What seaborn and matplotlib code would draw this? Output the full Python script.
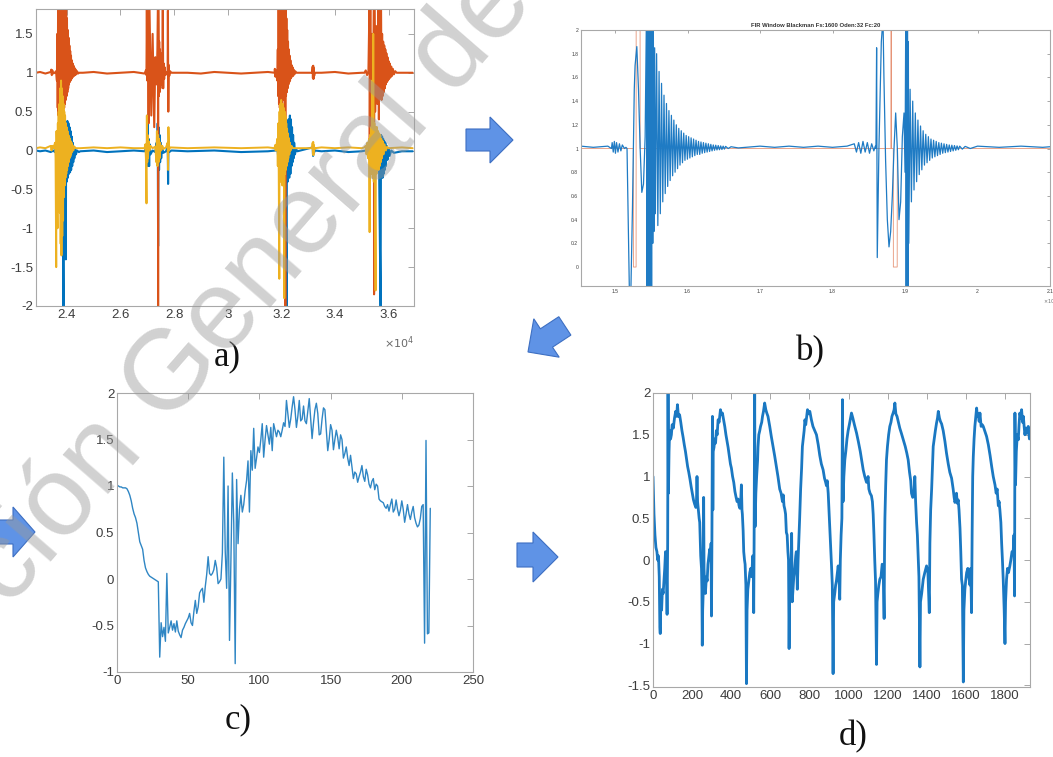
import numpy as np
import pandas as pd
import matplotlib
matplotlib.use("Agg")
import matplotlib.pyplot as plt
import matplotlib.ticker as mticker
from matplotlib.patches import Polygon
import seaborn as sns

# ---------------- DATA ----------------
# Panel a) three raw channels (x in samples)
A_blue_x = [22850, 23000, 23200, 23400, 23500, 23550, 23600, 23620, 23650, 23680, 23710, 23740, 23770, 23800,
            23830, 23876, 23890, 23920, 23963, 23975, 24000, 24020, 24040, 24060, 24080, 24100, 24120, 24140,
            24160, 24180, 24200, 24220, 24240, 24260, 24280, 24310, 24340, 24380, 24450,
            24500, 25000, 25500, 26000, 26500, 26900,
            26950, 26970, 27000, 27009, 27030, 27050, 27071, 27090, 27120, 27200, 27300, 27350, 27370, 27390,
            27405, 27420, 27440, 27460, 27480, 27500, 27520, 27550, 27600, 27700, 27765, 27777, 27790, 27820, 27900,
            28500, 29500, 30500, 31500, 31800,
            31850, 31900, 31950, 32000, 32050, 32100, 32150, 32198, 32210, 32240, 32270, 32297, 32320, 32340,
            32360, 32380, 32400, 32420, 32440, 32460, 32480, 32510, 32550, 32600,
            33170, 33185, 33200, 33220, 33250,
            33500, 34000, 34500, 35000, 35150,
            35200, 35250, 35300, 35350, 35400, 35450, 35500, 35550, 35600, 35650, 35703, 35720, 35740, 35760,
            35780, 35800, 35820, 35840, 35860, 35880, 35900, 35930, 35960, 36000, 36040, 36100, 36200, 36500, 36900]
A_blue_y = [0.0, -0.01, 0.0, -0.02, 0.0, -0.02, 0.05, -0.1, 0.1, -0.3, 0.2, -0.4, 0.25, -0.5,
            0.3, -2.0, 0.3, -0.45, -1.4, 0.35, -0.4, 0.38, -0.35, 0.35, -0.3, 0.3, -0.28, 0.25,
            -0.25, 0.18, -0.2, 0.1, -0.15, 0.05, -0.1, 0.02, -0.05, 0.0, -0.02,
            -0.01, 0.0, -0.02, -0.01, 0.0, -0.01,
            0.02, -0.1, 0.2, 0.45, -0.2, 0.15, -0.2, 0.08, -0.05, 0.0, -0.02, 0.1, -0.15, 0.35,
            -1.23, 0.3, -0.25, 0.2, -0.15, 0.1, -0.1, 0.05, -0.03, -0.01, 0.05, -0.43, 0.05, -0.02, 0.0,
            -0.01, 0.0, -0.02, -0.01, 0.0,
            0.05, -0.15, 0.15, -0.25, 0.2, -0.3, 0.25, -2.0, 0.3, -0.4, 0.4, -0.35, 0.45, -0.3,
            0.4, -0.2, 0.3, -0.15, 0.2, -0.1, 0.1, -0.05, 0.02, -0.01,
            0.04, -0.07, 0.05, -0.03, 0.0,
            -0.01, 0.0, -0.02, -0.01, 0.0,
            0.03, -0.05, 0.05, -0.1, 0.1, -0.15, 0.12, -0.2, 0.15, -0.3, -2.0, 0.2, -0.35, 0.18,
            -0.35, 0.15, -0.3, 0.12, -0.25, 0.1, -0.2, 0.06, -0.12, 0.03, -0.07, 0.0, -0.03, -0.01, -0.01]

A_orange_x = [22850, 23000, 23200, 23400, 23420, 23440, 23460, 23480, 23550,
              23600, 23630, 23645, 23660, 23675, 23690, 23705, 23720, 23735, 23750, 23765, 23780, 23795, 23810,
              23825, 23840, 23855, 23870, 23885, 23900, 23915, 23930, 23945, 23960, 23975, 23990, 24005, 24020,
              24035, 24050, 24065, 24080, 24095, 24110, 24125, 24140, 24155, 24170, 24185, 24200, 24215, 24230,
              24250, 24270, 24290, 24310, 24330, 24350, 24380, 24420, 24450,
              24600, 25000, 25500, 26000, 26500, 26900,
              26950, 26970, 26985, 27000, 27015, 27050, 27080, 27150, 27200, 27260, 27300, 27350, 27380, 27400,
              27405, 27410, 27430, 27445, 27460, 27475, 27490, 27505, 27520, 27540, 27560, 27580, 27595, 27610,
              27630, 27650, 27680, 27720, 27760, 27770, 27785, 27800, 27820, 27850, 27900,
              28500, 29000, 29500, 30000, 30500, 31000, 31500, 31750, 31760, 31780, 31800,
              31850, 31870, 31885, 31900, 31915, 31930, 31945, 31960, 31975, 31990, 32005, 32020, 32035, 32050,
              32065, 32080, 32095, 32110, 32125, 32140, 32150, 32160, 32175, 32190, 32205, 32220, 32235, 32250,
              32265, 32280, 32295, 32310, 32325, 32340, 32360, 32380, 32400, 32420, 32440, 32460, 32490, 32520, 32560,
              33150, 33170, 33180, 33190, 33200, 33210, 33225, 33250,
              33500, 34000, 34500, 35000,
              35100, 35150, 35200, 35250, 35290, 35300, 35320, 35340, 35380, 35420, 35455, 35460, 35470, 35500,
              35540, 35580, 35620, 35640, 35660, 35690, 35720, 35740, 35760, 35780, 35800, 35820, 35840, 35860,
              35880, 35900, 35920, 35940, 35960, 35980, 36000, 36020, 36040, 36070, 36100, 36130, 36160, 36200,
              36250, 36300, 36500, 36900]
A_orange_y = [1.0, 1.01, 0.99, 1.01, 1.04, 0.97, 1.03, 0.99, 1.0,
              1.02, 0.9, 1.5, 0.55, 1.9, 0.45, 1.9, 0.4, 1.9, 0.45, 1.9, 0.4, 1.9, 0.45,
              1.9, 0.5, 1.9, 0.55, 1.9, 0.55, 1.9, 0.6, 1.9, 0.65, 1.85, 0.7, 1.7, 0.75,
              1.55, 0.8, 1.45, 0.85, 1.35, 0.88, 1.28, 0.9, 1.22, 0.92, 1.16, 0.94, 1.12, 0.95,
              1.09, 0.96, 1.06, 0.97, 1.04, 0.98, 1.02, 0.99, 1.0,
              1.0, 1.01, 0.99, 1.0, 1.01, 0.99,
              1.03, 0.97, 1.9, 0.9, 1.9, 0.35, 1.9, 0.45, 1.5, 0.3, 1.2, 0.85, 1.3, 1.9,
              -2.0, 1.9, 0.7, 1.4, 0.75, 1.3, 0.8, 1.25, 0.85, 1.2, 0.9, 1.9, 0.8, 1.12,
              0.92, 1.07, 0.97, 1.0, 1.02, 1.8, 0.5, 1.1, 0.96, 1.02, 1.0,
              1.0, 0.99, 1.01, 1.0, 0.99, 1.0, 1.01, 1.0, 1.05, 0.95, 1.03,
              0.9, 1.3, 0.7, 1.9, 0.6, 1.9, 0.55, 1.9, 0.6, 1.9, 0.6, 1.9, 0.6, 1.9,
              0.65, 1.9, 0.65, 1.9, 0.7, 1.9, -2.0, 1.85, 0.7, 1.7, 0.75, 1.55, 0.8, 1.4,
              0.85, 1.3, 0.88, 1.22, 0.9, 1.16, 0.93, 1.1, 0.95, 1.07, 0.96, 1.04, 0.98, 1.02, 1.0,
              1.0, 1.08, 0.93, 1.09, 0.92, 1.06, 0.96, 1.0,
              1.0, 1.01, 0.99, 1.0,
              1.0, 1.03, 0.97, 1.02, 1.9, 0.1, 1.9, 0.3, 1.5, 0.4, 1.9, -1.85, 1.9, 0.5,
              1.6, 0.6, 1.9, 0.4, 1.9, 0.7, 1.9, 0.65, 1.5, 0.7, 1.4, 0.75, 1.35, 0.8,
              1.3, 0.85, 1.25, 0.88, 1.2, 0.9, 1.15, 0.92, 1.12, 0.94, 1.08, 0.96, 1.05, 0.98,
              1.02, 1.0, 1.0, 1.0]

A_yellow_x = [22850, 23000, 23200, 23400, 23430, 23460, 23500,
              23560, 23580, 23604, 23615, 23630, 23653, 23665, 23680, 23695, 23710, 23725, 23740, 23755, 23770,
              23785, 23800, 23815, 23830, 23845, 23860, 23875, 23890, 23905, 23920, 23935, 23950, 23965, 23980,
              23995, 24010, 24025, 24040, 24055, 24070, 24085, 24100, 24115, 24130, 24145, 24160, 24175, 24190,
              24210, 24240, 24280, 24330,
              24500, 25000, 25500, 26000, 26500, 26900,
              26930, 26950, 26972, 26985, 27000, 27015, 27030, 27050, 27080, 27120, 27200, 27300, 27340, 27360,
              27380, 27400, 27420, 27440, 27460, 27480, 27520, 27560, 27600, 27700, 27760, 27777, 27790, 27810, 27850,
              28500, 29500, 30500, 31500, 31750, 31770, 31790, 31810,
              31850, 31870, 31890, 31905, 31926, 31935, 31950, 31965, 31980, 31995, 32010, 32025, 32040, 32055,
              32070, 32085, 32100, 32112, 32125, 32140, 32155, 32170, 32185, 32200, 32215, 32230, 32245, 32260,
              32280, 32300, 32320, 32345, 32380, 32430,
              33150, 33170, 33180, 33190, 33200, 33215, 33235, 33260,
              33500, 34000, 34500, 35000, 35100,
              35150, 35180, 35210, 35240, 35270, 35294, 35310, 35330, 35350, 35370, 35390, 35410, 35430, 35450,
              35470, 35490, 35517, 35530, 35550, 35570, 35590, 35610, 35630, 35650, 35670, 35690, 35710, 35730,
              35750, 35780, 35810, 35850, 35900, 35950, 36000, 36500, 36900]
A_yellow_y = [0.03, 0.04, 0.03, 0.06, 0.0, 0.06, 0.03,
              0.1, -0.1, -1.5, 0.25, -0.2, -1.0, 0.35, -0.3, 0.5, -0.5, 0.6, -0.8, 0.8, -1.2,
              0.9, -1.35, 0.8, -1.1, 0.7, -0.9, 0.6, -0.6, 0.5, -0.45, 0.45, -0.35, 0.35, -0.3,
              0.3, -0.25, 0.25, -0.2, 0.2, -0.15, 0.18, -0.1, 0.15, -0.08, 0.12, -0.05, 0.1, -0.02,
              0.07, 0.0, 0.05, 0.03,
              0.03, 0.04, 0.03, 0.04, 0.03, 0.03,
              0.08, -0.1, -0.68, 0.45, -0.15, 0.2, -0.1, 0.12, 0.0, 0.06, 0.03, 0.05, -0.15, 0.25,
              -0.2, 0.2, -0.15, 0.15, -0.1, 0.1, 0.0, 0.06, 0.02, 0.04, 0.1, -0.25, 0.3, 0.0, 0.04,
              0.03, 0.04, 0.03, 0.04, 0.03, 0.07, 0.0, 0.04,
              0.15, -0.2, 0.35, -0.3, -1.65, 0.5, -0.35, 0.6, -0.4, 0.65, -0.4, 0.6, -0.45, 0.6,
              -0.4, 0.55, -0.35, -1.9, 0.5, -0.3, 0.45, -0.25, 0.35, -0.2, 0.28, -0.15, 0.22, -0.1,
              0.16, -0.05, 0.1, 0.0, 0.06, 0.03,
              0.03, 0.1, -0.05, 0.11, -0.06, 0.07, 0.01, 0.03,
              0.04, 0.03, 0.04, 0.03, 0.04,
              0.06, -0.05, 0.1, -0.1, 0.15, -1.05, 0.2, -0.25, 0.3, -0.3, 0.9, -0.35, 1.5, -0.4,
              0.35, -0.35, -1.8, 0.3, -0.3, 0.3, -0.25, 0.25, -0.25, 0.22, -0.2, 0.2, -0.15, 0.15,
              -0.1, 0.12, -0.05, 0.08, 0.0, 0.05, 0.03, 0.04, 0.03]
A_xticks = [24000, 26000, 28000, 30000, 32000, 34000, 36000]
A_yticks = [-2, -1.5, -1, -0.5, 0, 0.5, 1, 1.5]

# Panel b) FIR filtered signal
B_blue_x = [14530, 14700, 14900, 14950, 14960, 14975, 14990, 15005, 15020, 15040, 15060, 15080, 15100, 15130,
            15150, 15165, 15200, 15215, 15240, 15265, 15276, 15300, 15323, 15346, 15369, 15392, 15415,
            15432, 15440, 15448, 15456, 15464, 15472, 15480, 15488, 15496, 15504, 15512, 15520, 15528, 15536,
            15546, 15556,
            15573, 15590, 15607, 15624, 15641, 15658, 15675, 15692, 15709, 15726, 15743, 15760, 15777, 15794,
            15811, 15828, 15845, 15862, 15879, 15896, 15913, 15930, 15947, 15964, 15981, 15998, 16015, 16032,
            16049, 16066, 16083, 16100, 16117, 16134, 16151, 16168, 16185, 16202, 16219, 16236, 16253, 16270,
            16287, 16304, 16321, 16338, 16355, 16372, 16389, 16406, 16423, 16440, 16457, 16474, 16491, 16508,
            16525, 16560, 16600, 16700,
            16800, 17000, 17200, 17400, 17600, 17800, 18000, 18200,
            18300, 18330, 18360, 18390, 18420, 18450, 18480, 18510, 18540, 18570, 18590,
            18599, 18608, 18617, 18640, 18673, 18696, 18709, 18732, 18756, 18779, 18802, 18825, 18848, 18871,
            18894, 18917, 18940, 18963, 18986, 19000,
            19010, 19016, 19022, 19028, 19034, 19040, 19046, 19052,
            19070, 19088, 19106, 19124, 19142, 19160, 19178, 19196, 19214, 19232, 19250, 19268, 19286, 19304,
            19322, 19340, 19358, 19376, 19394, 19412, 19430, 19448, 19466, 19484, 19502, 19520, 19538, 19556,
            19574, 19592, 19610, 19628, 19646, 19664, 19682, 19700, 19718, 19736, 19754, 19790, 19830, 19900,
            20000, 20300, 20600, 20900, 21100]
B_blue_y = [1.02, 1.01, 1.02, 1.0, 1.05, 0.97, 1.06, 0.96, 1.05, 0.97, 1.04, 0.98, 1.03, 1.0,
            1.01, 1.0, -0.3, -0.3, 0.5, 1.5, 1.7, 1.86, 1.5, 1.0, 0.63, 0.7, 1.1,
            2.1, -0.2, 2.1, -0.2, 2.1, -0.2, 2.1, -0.2, 2.1, -0.2, 2.1, 0.2, 2.05, 0.3,
            1.85, 0.45,
            1.8, 0.35, 1.65, 0.45, 1.55, 0.55, 1.45, 0.62, 1.38, 0.68, 1.32, 0.73, 1.28, 0.77,
            1.24, 0.8, 1.2, 0.83, 1.17, 0.86, 1.15, 0.88, 1.13, 0.9, 1.11, 0.91, 1.1, 0.92,
            1.09, 0.93, 1.08, 0.94, 1.07, 0.95, 1.06, 0.95, 1.055, 0.96, 1.05, 0.965, 1.045, 0.97,
            1.04, 0.975, 1.035, 0.98, 1.03, 0.985, 1.028, 0.988, 1.025, 0.99, 1.022, 0.992, 1.02, 0.995,
            1.018, 1.0, 1.015, 1.005,
            1.01, 1.02, 1.01, 1.02, 1.01, 1.02, 1.01, 1.02,
            1.04, 0.97, 1.05, 0.96, 1.06, 0.97, 1.05, 0.96, 1.04, 0.98, 1.02,
            1.0, 1.85, 0.08, 1.0, 1.9, 2.1, 1.6, 0.9, 0.4, 0.17, 0.3, 0.6, 1.0, 1.3,
            1.0, 0.4, 0.55, 1.1, 1.3, 0.8,
            2.1, -0.2, 2.1, -0.2, 2.1, -0.2, 1.9, 0.2,
            1.5, 0.55, 1.4, 0.65, 1.3, 0.72, 1.24, 0.78, 1.19, 0.82, 1.15, 0.86, 1.12, 0.88,
            1.1, 0.9, 1.08, 0.92, 1.07, 0.93, 1.06, 0.94, 1.05, 0.95, 1.045, 0.96, 1.04, 0.965,
            1.035, 0.97, 1.03, 0.975, 1.028, 0.98, 1.025, 0.985, 1.022, 0.99, 1.02, 0.995, 1.018, 1.0,
            1.02, 1.01, 1.02, 1.01, 1.02]
B_ref_x = [14530, 15252, 15253, 15290, 15291, 15345, 15346, 18805, 18806, 18812, 18813, 18838, 18839, 18892, 18893, 21100]
B_ref_y = [1.0, 1.0, 0.0, 0.0, 2.2, 2.2, 1.0, 1.0, 2.2, 2.2, 1.0, 1.0, 0.0, 0.0, 1.0, 1.0]
B_xticks = [15000, 16000, 17000, 18000, 19000, 20000, 21000]
B_yticks = [0, 0.2, 0.4, 0.6, 0.8, 1, 1.2, 1.4, 1.6, 1.8, 2]
B_title = "FIR Window Blackman Fs:1600 Oden:32 Fc:20"

# Panel c) one extracted cycle
C_x = list(range(0, 221))
C_y = [1.01, 1.0, 0.99, 0.99, 0.98, 0.98, 0.98, 0.97, 0.94, 0.9, 0.84, 0.76, 0.7, 0.66, 0.6, 0.5, 0.4, 0.36,
       0.32, 0.2, 0.12, 0.08, 0.05, 0.03, 0.02, 0.01, 0.0, -0.01, -0.02, -0.03, -0.84, -0.47, -0.62, -0.52,
       -0.67, 0.06, -0.58, -0.52, -0.45, -0.55, -0.48, -0.57, -0.45, -0.56, -0.6, -0.63, -0.55, -0.52, -0.48,
       -0.45, -0.42, -0.37, -0.47, -0.5, -0.35, -0.23, -0.37, -0.3, -0.15, -0.12, -0.1, -0.25, -0.08, 0.05,
       0.24, 0.06, 0.04, 0.06, 0.1, 0.2, 0.12, -0.05, -0.03, 0.0, 0.28, 1.31, 0.3, -0.1, 1.0, -0.66, 0.2,
       1.14, 0.6, -0.91, 1.07, 0.38, 0.75, 0.9, 0.72, 0.8, 0.95, 1.06, 1.27, 0.72, 1.38, 1.17, 1.62, 1.19,
       1.3, 1.42, 1.36, 1.5, 1.67, 1.31, 1.5, 1.65, 1.55, 1.45, 1.63, 1.38, 1.67, 1.6, 1.53, 1.6, 1.58, 1.53,
       1.6, 1.68, 1.64, 1.92, 1.78, 1.63, 1.72, 1.85, 1.96, 1.82, 1.63, 1.75, 1.92, 1.7, 1.72, 1.86, 1.7,
       1.67, 1.8, 1.94, 1.72, 1.51, 1.68, 1.82, 1.89, 1.78, 1.55, 1.56, 1.72, 1.84, 1.82, 1.6, 1.38, 1.5,
       1.66, 1.6, 1.39, 1.5, 1.6, 1.52, 1.4, 1.55, 1.5, 1.3, 1.35, 1.42, 1.3, 1.22, 1.33, 1.2, 1.08, 1.15,
       1.13, 1.04, 1.1, 1.15, 1.22, 1.1, 1.05, 1.18, 1.12, 1.02, 0.98, 1.05, 1.08, 0.96, 1.02, 1.0, 0.86,
       0.84, 0.83, 0.82, 0.78, 0.76, 0.8, 0.73, 0.8, 0.86, 0.72, 0.75, 0.85, 0.75, 0.68, 0.74, 0.84, 0.75,
       0.61, 0.7, 0.8, 0.7, 0.64, 0.72, 0.78, 0.66, 0.6, 0.56, 0.58, 0.65, 0.78, 0.8, -0.69, 1.49, -0.59,
       -0.58, 0.76]
C_xticks = [0, 50, 100, 150, 200, 250]
C_yticks = [-1, -0.5, 0, 0.5, 1, 1.5, 2]

# Panel d) concatenated cycles
D_x = [0, 5, 10, 15, 20, 24, 28, 32, 35, 37, 40, 44, 48, 52, 56, 60, 64, 68, 72, 75, 77, 79, 82, 85, 90, 94, 98,
       104, 110, 116, 121, 125, 130, 136, 142, 148, 154, 160, 166, 171, 177, 183, 189, 195, 201, 207, 213, 219,
       222, 225, 228, 232, 236, 239, 242, 244, 248, 250, 252, 254, 256, 258, 259, 261, 264, 268, 273, 277, 281,
       286, 290, 294, 297, 299, 301, 304, 306, 308, 312, 316, 320, 324, 328, 333, 338, 345, 350, 355, 361, 367,
       373, 379, 384, 390, 396, 401, 407, 413, 419, 425, 430, 435, 440, 444, 448, 452, 455, 457, 461, 464, 468,
       471, 475, 478, 481, 485, 490, 495, 500, 505, 510, 513, 515, 517, 520, 522, 526, 530, 535, 537, 541, 546,
       550, 556, 560, 565, 571, 577, 582, 588, 597, 605, 614, 622, 631, 639, 648, 655, 662, 666, 670, 674, 678,
       682, 686, 690, 693, 696, 699, 703, 706, 709, 712, 716, 720, 725, 730, 733, 738, 742, 746, 750, 755, 760,
       764, 768, 773, 777, 781, 786, 790, 795, 802, 810, 818, 827, 836, 845, 853, 861, 870, 877, 883, 887, 891,
       896, 900, 904, 908, 913, 917, 921, 924, 930, 934, 938, 943, 947, 951, 955, 958, 962, 966, 969, 972, 976,
       981, 986, 992, 998, 1004, 1010, 1015, 1022, 1030, 1041, 1050, 1060, 1068, 1075, 1083, 1092, 1096, 1100,
       1104, 1110, 1117, 1122, 1126, 1130, 1134, 1138, 1143, 1146, 1150, 1155, 1160, 1166, 1172, 1177, 1182,
       1184, 1186, 1190, 1194, 1199, 1205, 1211, 1217, 1222, 1228, 1233, 1237, 1242, 1248, 1254, 1262, 1270,
       1280, 1290, 1298, 1305, 1312, 1318, 1322, 1328, 1334, 1339, 1343, 1348, 1352, 1356, 1360, 1365, 1368,
       1374, 1382, 1390, 1399, 1406, 1413, 1416, 1420, 1425, 1429, 1433, 1438, 1444, 1450, 1455, 1459, 1465,
       1470, 1476, 1484, 1493, 1501, 1510, 1518, 1527, 1535, 1540, 1544, 1548, 1552, 1556, 1561, 1565, 1570,
       1574, 1578, 1582, 1587, 1590, 1595, 1600, 1604, 1610, 1615, 1621, 1625, 1629, 1632, 1635, 1638, 1642,
       1646, 1650, 1655, 1659, 1663, 1668, 1672, 1678, 1684, 1689, 1696, 1706, 1715, 1724, 1732, 1740, 1749,
       1755, 1760, 1766, 1770, 1774, 1779, 1783, 1787, 1791, 1796, 1800, 1803, 1808, 1813, 1818, 1825, 1830,
       1836, 1842, 1846, 1849, 1851, 1854, 1858, 1863, 1868, 1872, 1876, 1881, 1885, 1890, 1894, 1898, 1902,
       1907, 1912, 1919, 1925]
D_y = [1.0, 0.55, 0.3, 0.15, 0.1, 0.0, 0.05, -0.2, -0.8, -0.88, -0.5, -0.6, -0.35, -0.4, -0.25, -0.1, 0.1, 0.05,
       -0.65, 0.2, 2.0, 0.8, 1.3, 1.55, 1.45, 1.5, 1.62, 1.58, 1.7, 1.78, 1.72, 1.86, 1.72, 1.74, 1.65, 1.55,
       1.47, 1.38, 1.3, 1.22, 1.12, 1.05, 0.97, 0.88, 0.8, 0.72, 0.67, 0.63, 0.66, 1.0, 0.7, 0.6, 0.5, 0.45,
       0.2, 0.05, -0.1, -0.35, -1.02, -0.6, -0.45, -0.2, 0.75, -0.1, -0.3, -0.4, -0.2, -0.25, -0.05, 0.05, 0.13,
       0.0, 0.2, -0.67, 0.1, 1.72, 0.6, 1.3, 1.35, 1.45, 1.4, 1.55, 1.5, 1.68, 1.65, 1.8, 1.74, 1.76, 1.68,
       1.6, 1.5, 1.42, 1.35, 1.25, 1.15, 1.1, 1.0, 0.93, 0.82, 0.75, 0.7, 0.73, 0.65, 0.62, 0.68, 0.9, 0.6,
       0.55, 0.35, 0.1, 0.0, -0.05, -0.3, -1.48, -0.6, -0.35, -0.25, -0.15, -0.1, -0.2, 0.05, -0.1, -0.63, 0.2,
       2.0, 0.4, 0.8, 1.0, 1.2, 1.35, 1.5, 1.55, 1.6, 1.65, 1.72, 1.78, 1.88, 1.8, 1.76, 1.72, 1.6, 1.48,
       1.36, 1.25, 1.12, 1.0, 0.85, 0.8, 0.7, 0.78, 0.65, 0.61, 0.55, 0.33, 0.3, 0.1, 0.0, -1.06, -0.3, -0.25,
       -0.15, 0.32, -0.5, -0.35, -0.2, -0.1, 0.05, 0.1, -0.35, 0.0, 0.25, 0.5, 0.85, 1.1, 1.36, 1.45, 1.55,
       1.68, 1.62, 1.72, 1.8, 1.75, 1.78, 1.68, 1.6, 1.55, 1.5, 1.38, 1.25, 1.15, 1.08, 0.98, 0.93, 0.89,
       0.95, 0.8, 0.6, 0.4, 0.2, -0.07, -0.3, -1.36, -0.5, -0.39, -0.3, -0.25, -0.15, -0.07, -0.2, -0.47, 0.0,
       0.3, 0.5, 1.92, 0.7, 1.0, 1.2, 1.3, 1.45, 1.55, 1.62, 1.7, 1.76, 1.7, 1.62, 1.52, 1.42, 1.3, 1.18,
       1.08, 1.0, 0.93, 0.95, 1.0, 0.85, 0.8, 0.77, 0.7, 0.55, 0.3, 0.0, -0.25, -1.25, -0.5, -0.4, -0.3,
       -0.23, -0.2, -0.05, -0.07, -0.7, 0.1, 0.5, 0.9, 1.2, 1.36, 1.5, 1.6, 1.65, 1.72, 1.76, 1.8, 1.88, 1.75,
       1.72, 1.66, 1.58, 1.52, 1.44, 1.36, 1.28, 1.2, 1.05, 0.95, 0.8, 0.75, 0.78, 1.0, 0.7, 0.45, 0.3, 0.05,
       -0.2, -1.28, -0.5, -0.4, -0.23, -0.15, -0.07, -0.15, -0.63, 0.2, 0.6, 0.85, 1.1, 1.36, 1.45, 1.55, 1.64,
       1.7, 1.78, 1.7, 1.66, 1.63, 1.55, 1.42, 1.28, 1.15, 1.05, 0.98, 0.85, 0.75, 0.69, 0.72, 0.8, 0.68, 0.72,
       0.6, 0.38, 0.1, -0.23, -0.3, -1.46, -0.6, -0.35, -0.23, -0.15, -0.1, -0.2, -0.3, -0.1, -0.63, 0.3, 1.0,
       1.24, 1.45, 1.6, 1.7, 1.82, 1.72, 1.75, 1.66, 1.76, 1.6, 1.62, 1.6, 1.55, 1.48, 1.38, 1.25, 1.12, 1.0,
       0.9, 0.8, 0.85, 0.65, 0.7, 0.6, 0.45, 0.2, 0.0, -0.23, -0.6, -1.0, -0.5, -0.23, -0.1, -0.15, -0.07, 0.0,
       0.1, 0.1, 0.3, -0.43, 1.76, 0.9, 1.3, 1.5, 1.44, 1.62, 1.76, 1.7, 1.8, 1.65, 1.72, 1.6, 1.5, 1.58,
       1.52, 1.6, 1.45]
D_xticks = [0, 200, 400, 600, 800, 1000, 1200, 1400, 1600, 1800]
D_yticks = [-1.5, -1, -0.5, 0, 0.5, 1, 1.5, 2]

PANEL_LABELS = ["a)", "b)", "c)", "d)"]
WATERMARK = "ción General de"

# ---------------- STYLE ----------------
sns.set_style("white")
plt.rcParams["font.family"] = ["Liberation Sans", "DejaVu Sans"]

W, H = 1053, 757
fig = plt.figure(figsize=(W / 100, H / 100), dpi=100)

def box(left, top, right, bottom):
    return [left / W, 1 - bottom / H, (right - left) / W, (bottom - top) / H]

ML_BLUE = "#0072BD"
ML_ORANGE = "#D95319"
ML_YELLOW = "#EDB120"
SPINE = "#a8a8a8"
TICKC = "#3c3c3c"

def style_axes(ax, fs, tl=4):
    for s in ax.spines.values():
        s.set_color(SPINE)
        s.set_linewidth(0.8)
        s.set_visible(True)
    ax.tick_params(direction="in", top=True, right=True, length=tl, width=0.6,
                   color="#9a9a9a", labelsize=fs, labelcolor=TICKC, pad=2)
    ax.set_xlabel("")
    ax.set_ylabel("")
    ax.grid(False)

def fmt(v, pos=None):
    return f"{v:g}"

# ---------- a) ----------
axa = fig.add_axes(box(36, 9, 414, 306))
sns.lineplot(x=A_blue_x, y=A_blue_y, ax=axa, sort=False, estimator=None, color=ML_BLUE, lw=1.5)
sns.lineplot(x=A_orange_x, y=A_orange_y, ax=axa, sort=False, estimator=None, color=ML_ORANGE, lw=1.5)
sns.lineplot(x=A_yellow_x, y=A_yellow_y, ax=axa, sort=False, estimator=None, color=ML_YELLOW, lw=1.4)
axa.set_xlim(22850, 36950)
axa.set_ylim(-2, 1.82)
axa.set_xticks(A_xticks)
axa.xaxis.set_major_formatter(mticker.FuncFormatter(lambda v, p: f"{v / 1e4:g}"))
axa.set_yticks(A_yticks)
axa.yaxis.set_major_formatter(mticker.FuncFormatter(fmt))
style_axes(axa, 9.5)
axa.text(1.0, -0.095, r"$\times10^{4}$", transform=axa.transAxes, ha="right", va="top",
         fontsize=8, color="#6a6a6a")

# ---------- b) ----------
axb = fig.add_axes(box(581, 30, 1050, 286))
sns.lineplot(x=B_ref_x, y=B_ref_y, ax=axb, sort=False, estimator=None, color="#E07A55", lw=0.6, alpha=0.8)
sns.lineplot(x=B_blue_x, y=B_blue_y, ax=axb, sort=False, estimator=None, color="#1f7bc4", lw=0.9)
axb.set_xlim(14530, 21000)
axb.set_ylim(-0.16, 2)
axb.set_xticks(B_xticks)
axb.xaxis.set_major_formatter(mticker.FuncFormatter(lambda v, p: f"{v / 1e4:g}"))
axb.set_yticks(B_yticks)
axb.yaxis.set_major_formatter(mticker.FuncFormatter(fmt))
style_axes(axb, 3.6, tl=2.5)
axb.set_title(B_title, fontsize=4.2, fontweight="bold", color="#333333", pad=2)
axb.text(0.985, -0.04, r"$\times10^{4}$", transform=axb.transAxes, ha="left", va="top",
         fontsize=3.5, color="#6a6a6a")

# ---------- c) ----------
axc = fig.add_axes(box(117, 393, 473, 672))
sns.lineplot(x=C_x, y=C_y, ax=axc, sort=False, estimator=None, color="#2f86c4", lw=1.0)
axc.set_xlim(0, 250)
axc.set_ylim(-1, 2)
axc.set_xticks(C_xticks)
axc.set_yticks(C_yticks)
axc.yaxis.set_major_formatter(mticker.FuncFormatter(fmt))
style_axes(axc, 9.5)

# ---------- d) ----------
axd = fig.add_axes(box(653, 393, 1030, 687))
sns.lineplot(x=D_x, y=D_y, ax=axd, sort=False, estimator=None, color="#1a78c2", lw=2.0)
axd.set_xlim(0, 1928)
axd.set_ylim(-1.52, 2)
axd.set_xticks(D_xticks)
axd.set_yticks(D_yticks)
axd.yaxis.set_major_formatter(mticker.FuncFormatter(fmt))
style_axes(axd, 9.5)

# ---------- panel labels ----------
label_pos = [(227, 357), (810, 352), (238, 720), (853, 737)]
for lab, (px, py) in zip(PANEL_LABELS, label_pos):
    fig.text(px / W, 1 - py / H, lab, ha="center", va="center", fontsize=25,
             family=["Liberation Serif", "DejaVu Serif"], color="#111111")

# ---------- arrows ----------
def arrow(points):
    pts = [(x / W, 1 - y / H) for x, y in points]
    fig.patches.append(Polygon(pts, closed=True, transform=fig.transFigure, facecolor="#5f93e6",
                               edgecolor="#3d6fc2", lw=0.8, zorder=5))

arrow([(466, 129), (490, 129), (490, 117), (513, 140), (490, 163), (490, 151), (466, 151)])
arrow([(528, 352), (533.8, 318.8), (540.4, 328.8), (558.8, 316.7), (570.9, 335.1), (552.5, 347.2), (559.2, 357.2)])
arrow([(-5, 520), (13, 520), (13, 507), (35, 532), (13, 557), (13, 544), (-5, 544)])
arrow([(517, 543), (533, 543), (533, 532), (558, 557), (533, 582), (533, 567), (517, 567)])

# ---------- watermark ----------
fig.text(250 / W, 1 - 287 / H, WATERMARK, ha="center", va="center", rotation=49,
         rotation_mode="anchor", fontsize=82, color="#9a9a9a", alpha=0.45, zorder=10,
         family=["Liberation Sans", "DejaVu Sans"])

fig.savefig("out.png", dpi=100)
